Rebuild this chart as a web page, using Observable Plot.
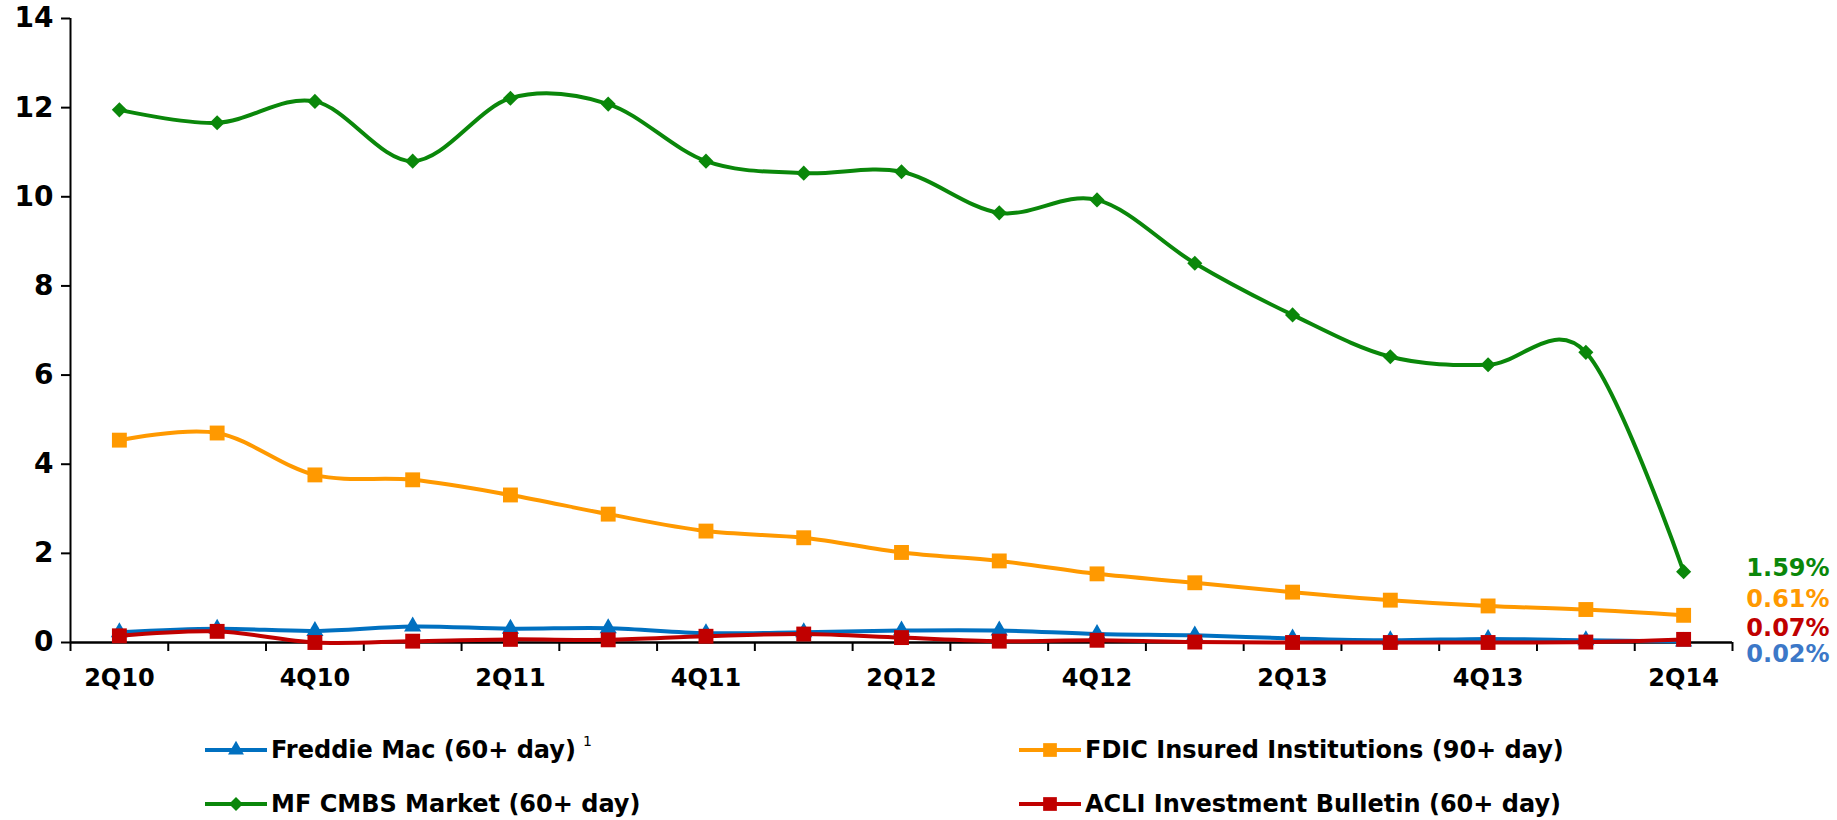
<!DOCTYPE html>
<html><head><meta charset="utf-8">
<script src="https://cdn.jsdelivr.net/npm/d3@7"></script>
<script src="https://cdn.jsdelivr.net/npm/@observablehq/plot@0.6"></script>
<style>
body{margin:0;background:#fff;width:1837px;height:820px;position:relative;overflow:hidden;font-family:"DejaVu Sans",sans-serif;}
#chart{position:absolute;left:0;top:0;}
.leg{position:absolute;display:flex;align-items:center;font-weight:bold;font-size:24px;color:#000;white-space:nowrap;transform:translateY(-50%);}
.leg svg{margin-right:4px;}
.leg sup{font-size:14px;font-weight:normal;margin-left:7px;position:relative;top:-9px;}
</style></head><body>
<div id="chart"></div>
<div id="legend"></div>
<script>
const quarters = ["2Q10","3Q10","4Q10","1Q11","2Q11","3Q11","4Q11","1Q12","2Q12","3Q12","4Q12","1Q13","2Q13","3Q13","4Q13","1Q14","2Q14"];
const freddieMac = [0.23,0.31,0.26,0.36,0.31,0.32,0.21,0.23,0.27,0.27,0.19,0.16,0.09,0.05,0.08,0.05,0.02];
const fdic = [4.54,4.70,3.76,3.65,3.31,2.88,2.50,2.35,2.02,1.83,1.54,1.34,1.13,0.95,0.82,0.74,0.61];
const mfCmbs = [11.95,11.66,12.14,10.80,12.21,12.08,10.80,10.53,10.56,9.64,9.93,8.51,7.35,6.41,6.23,6.51,1.59];
const acli = [0.15,0.25,0.00,0.03,0.07,0.06,0.14,0.19,0.11,0.03,0.05,0.01,0.00,0.00,0.00,0.01,0.07];
const seriesNames = ["Freddie Mac (60+ day)","FDIC Insured Institutions (90+ day)","MF CMBS Market (60+ day)","ACLI Investment Bulletin (60+ day)"];
const endLabels = ["0.02%","0.61%","1.59%","0.07%"];
const yTicks = [0,2,4,6,8,10,12,14];

const seriesValues = [freddieMac, fdic, mfCmbs, acli];
const colors = ["#0070C0","#FF9900","#0A870A","#C00000"];
const labelColors = ["#3C78C8","#FF9900","#0A870A","#C00000"];
const symbols = ["triangle","square","diamond2","square"];
const radii = [6.4,8.4,6.8,8.4];
const labelDy = [13,-16,-3,-11];

const series = seriesNames.map((name, k) => ({
  name, k,
  rows: seriesValues[k].map((v, i) => ({series: name, i, q: quarters[i], v}))
}));

const W = 1837, H = 712;
const boundaries = d3.range(quarters.length + 1).map(i => i - 0.5);
const labelIdx = quarters.map((q, i) => i).filter(i => i % 2 === 0);

const marks = [
  Plot.axisY(yTicks, {label: null, tickSize: 9, tickPadding: 8, fontSize: 28, fontWeight: "bold", strokeWidth: 2, stroke: "#000", fill: "#000"}),
  Plot.axisX(boundaries, {label: null, tickSize: 9, tickFormat: () => "", strokeWidth: 2, stroke: "#000"}),
  Plot.axisX(labelIdx, {label: null, tickSize: 0, tickPadding: 26, tickFormat: i => quarters[i], fontSize: 24, fontWeight: "bold", fill: "#000"}),
  Plot.ruleX([boundaries[0]], {y1: yTicks[0], y2: yTicks[yTicks.length - 1], stroke: "#000", strokeWidth: 2}),
  Plot.ruleY([0], {stroke: "#000", strokeWidth: 2.5})
];
series.forEach(s => {
  marks.push(Plot.line(s.rows, {x: "i", y: "v", stroke: colors[s.k], strokeWidth: 4, curve: "cardinal"}));
  marks.push(Plot.dot(s.rows, {x: "i", y: "v", symbol: () => symbols[s.k], r: radii[s.k], fill: colors[s.k], stroke: "none"}));
});
series.forEach(s => {
  marks.push(Plot.text(s.rows.slice(-1), {x: "i", y: "v", text: () => endLabels[s.k], dx: 146, dy: labelDy[s.k], textAnchor: "end", fill: labelColors[s.k], fontSize: 24, fontWeight: "bold"}));
});

const chart = Plot.plot({
  width: W, height: H,
  marginLeft: 70, marginRight: 105, marginTop: 18, marginBottom: H - 642,
  style: {fontFamily: "DejaVu Sans, sans-serif", background: "#fff", overflow: "visible"},
  x: {type: "linear", domain: [boundaries[0], boundaries[boundaries.length - 1]], axis: null, label: null},
  y: {domain: [yTicks[0], yTicks[yTicks.length - 1]], axis: null, label: null},
  symbol: {type: "identity"},
  marks
});
document.getElementById("chart").appendChild(chart);

// legend
const legPos = [[205, 750], [1019, 750], [205, 804], [1019, 804]];
const legend = document.getElementById("legend");
series.forEach(s => {
  const div = document.createElement("div");
  div.className = "leg";
  div.style.left = legPos[s.k][0] + "px";
  div.style.top = legPos[s.k][1] + "px";
  const symType = s.k === 0 ? d3.symbolTriangle : s.k === 2 ? d3.symbolDiamond2 : d3.symbolSquare;
  const sym = d3.symbol(symType, Math.PI * radii[s.k] * radii[s.k] * 0.85)();
  div.innerHTML = `<svg width="62" height="24" viewBox="0 0 62 24"><line x1="0" x2="62" y1="12" y2="12" stroke="${colors[s.k]}" stroke-width="4"/><path transform="translate(31,12)" d="${sym}" fill="${colors[s.k]}"/></svg><span>${s.name}</span>` + (s.k === 0 ? "<sup>1</sup>" : "");
  legend.appendChild(div);
});
</script>
</body></html>
